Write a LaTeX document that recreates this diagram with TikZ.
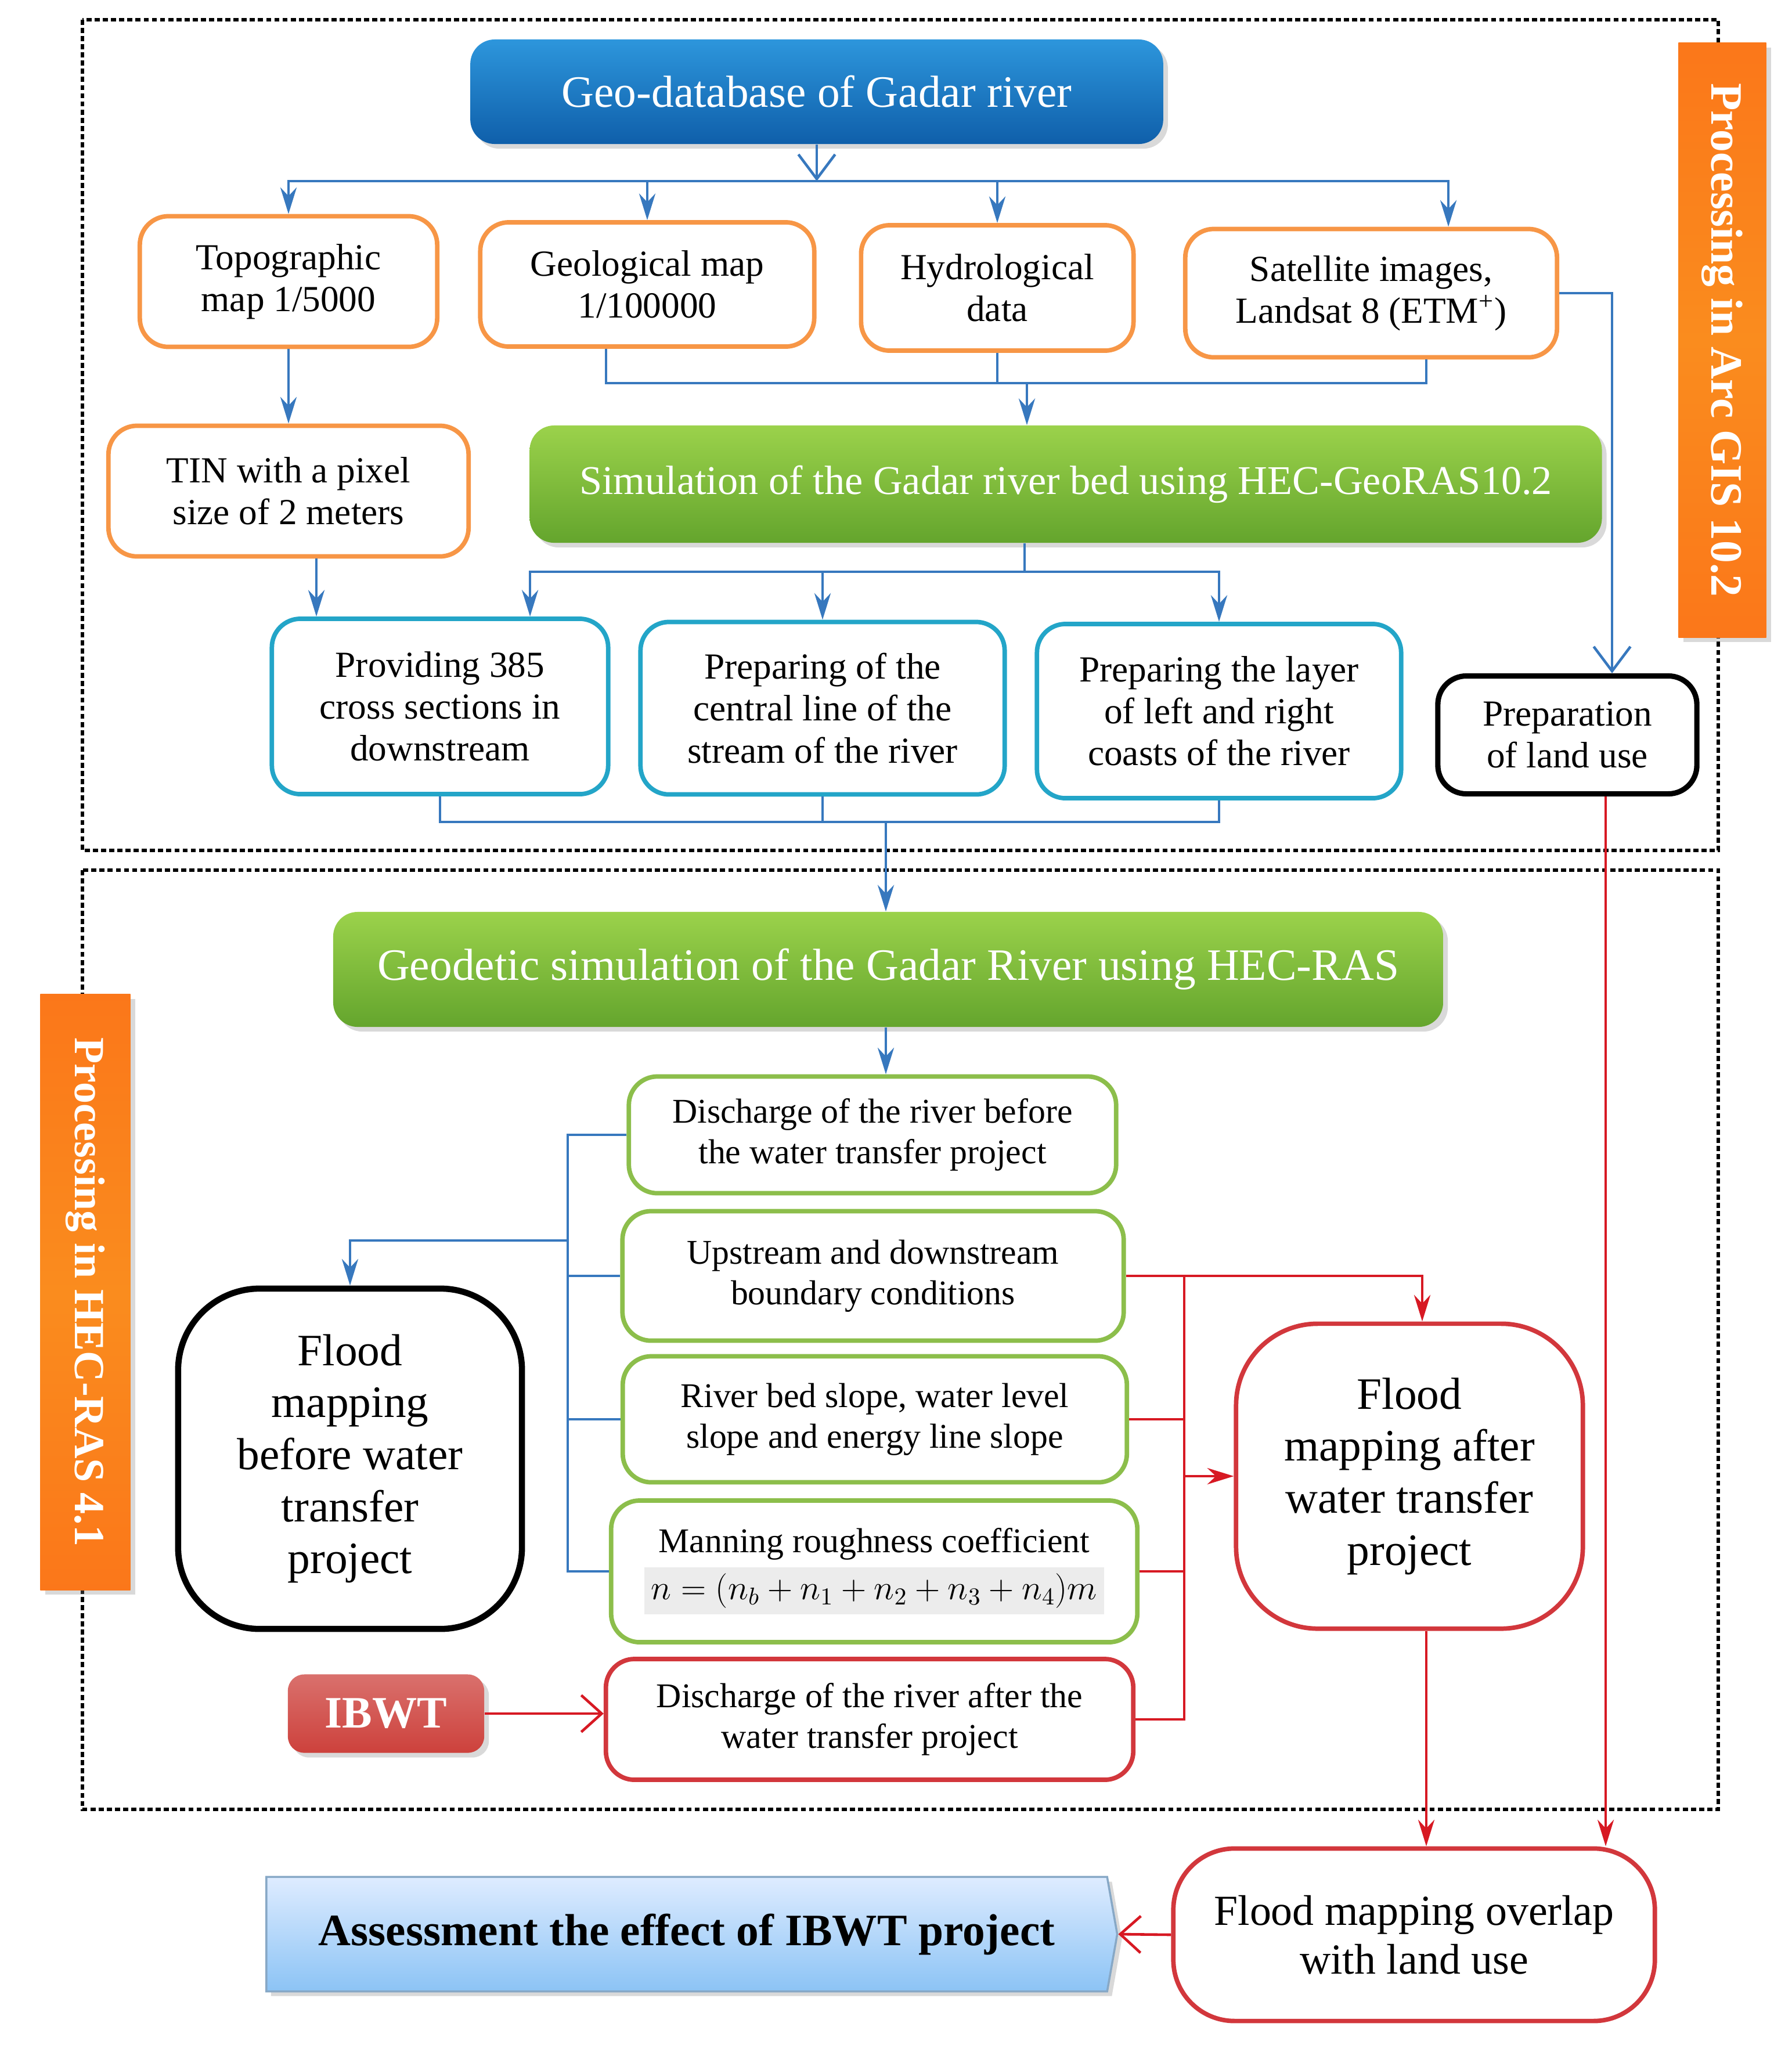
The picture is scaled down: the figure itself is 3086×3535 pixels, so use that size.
\documentclass[tikz,border=0pt]{standalone}
\usepackage{fix-cm}
\usepackage{fontspec}
\setmainfont{Liberation Serif}
\usetikzlibrary{arrows.meta,shadows,shapes.symbols}
\definecolor{linkblue}{RGB}{55,120,190}
\definecolor{linkred}{RGB}{215,25,35}
\definecolor{boxorange}{RGB}{247,150,70}
\definecolor{boxcyan}{RGB}{35,165,200}
\definecolor{boxgreen}{RGB}{140,190,75}
\definecolor{boxred}{RGB}{210,55,60}
\definecolor{dbtop}{RGB}{45,150,220}
\definecolor{dbbot}{RGB}{15,95,170}
\definecolor{greentop}{RGB}{155,210,75}
\definecolor{greenbot}{RGB}{100,165,45}
\definecolor{barorange}{RGB}{250,140,30}
\definecolor{ibwtred}{RGB}{205,65,60}
\definecolor{asstop}{RGB}{222,236,255}
\definecolor{assbot}{RGB}{140,195,245}

\begin{document}
\begin{tikzpicture}[x=0.01cm,y=-0.01cm]
        \tikzstyle{every node}=[align=center,inner sep=2pt,font=\fontsize{18}{20.5}\selectfont]
        \tikzstyle{frame}=[dash pattern=on 2.5pt off 1.5pt,line width=1.6pt]
        \tikzstyle{box}=[draw,fill=white,rounded corners=14pt,line width=2.2pt]
        \tikzstyle{obox}=[box,draw=boxorange]
        \tikzstyle{cbox}=[box,draw=boxcyan]
        \tikzstyle{gbox}=[box,draw=boxgreen,font=\fontsize{17}{20}\selectfont]
        \tikzstyle{rbox}=[box,draw=boxred]
        \tikzstyle{kbox}=[box,draw=black]
        \tikzstyle{bfill}=[rounded corners=12pt,top color=dbtop,bottom color=dbbot,text=white,font=\fontsize{22}{26}\selectfont,drop shadow={opacity=0.3}]
        \tikzstyle{gfill}=[rounded corners=12pt,top color=greentop,bottom color=greenbot,text=white,font=\fontsize{20}{24}\selectfont,drop shadow={opacity=0.3}]
        \tikzstyle{ifill}=[rounded corners=8pt,top color=ibwtred!75,bottom color=ibwtred,text=white,font=\bfseries\fontsize{22}{26}\selectfont,drop shadow={opacity=0.3}]
        \tikzstyle{bar}=[rotate=-90,top color=barorange!85!red,bottom color=barorange!85!red,middle color=barorange,text=white,font=\bfseries\fontsize{22}{26}\selectfont,drop shadow={opacity=0.3}]
        \tikzstyle{bline}=[draw=linkblue,line width=1.3pt]
        \tikzstyle{barrow}=[bline,-{Stealth[length=13pt,width=8pt]}]
        \tikzstyle{barrowo}=[bline,-{Straight Barb[length=12pt,width=18pt]}]
        \tikzstyle{rline}=[draw=linkred,line width=1.3pt]
        \tikzstyle{rarrow}=[rline,-{Stealth[length=13pt,width=8pt]}]
        \tikzstyle{rarrowo}=[rline,-{Straight Barb[length=10pt,width=18pt]}]
        \useasboundingbox (0,0) rectangle (3086,3535);
        \draw[frame] (142,34) rectangle (2960,1465);
        \draw[frame] (142,1499) rectangle (2960,3117);
        \node[bar,minimum width=10.24cm,minimum height=1.51cm] (arcgis) at (2967,586) {Processing in Arc GIS 10.2};
        \node[bar,minimum width=10.26cm,minimum height=1.55cm,font=\bfseries\fontsize{21}{25}\selectfont] (hecras) at (147,2226) {Processing in HEC-RAS 4.1};
        \node[bfill,minimum width=11.93cm,minimum height=1.8cm] (geodb) at (1407,158) {Geo-database of Gadar river};
        \node[obox,minimum width=5.12cm,minimum height=2.25cm] (topo) at (497,485) {Topographic\\map 1/5000};
        \node[obox,minimum width=5.75cm,minimum height=2.14cm] (geol) at (1115,490) {Geological map\\1/100000};
        \node[obox,minimum width=4.69cm,minimum height=2.16cm] (hydro) at (1718,496) {Hydrological\\data};
        \node[obox,minimum width=6.4cm,minimum height=2.21cm] (sat) at (2362,505) {Satellite images,\\Landsat 8 (ETM\textsuperscript{+})};
        \node[obox,minimum width=6.2cm,minimum height=2.25cm] (tin) at (497,846) {TIN with a pixel\\size of 2 meters};
        \node[gfill,minimum width=18.46cm,minimum height=2.02cm] (sim) at (1836,834) {Simulation of the Gadar river bed using HEC-GeoRAS10.2};
        \node[cbox,minimum width=5.79cm,minimum height=3.02cm] (prov) at (758,1217) {Providing 385\\cross sections in\\downstream};
        \node[cbox,minimum width=6.27cm,minimum height=2.97cm] (cent) at (1417,1220) {Preparing of the\\central line of the\\stream of the river};
        \node[cbox,minimum width=6.27cm,minimum height=3cm] (layer) at (2100,1225) {Preparing the layer\\of left and right\\coasts of the river};
        \node[kbox,minimum width=4.46cm,minimum height=2.03cm,line width=2.6pt] (land) at (2700,1266) {Preparation\\of land use};
        \node[gfill,minimum width=19.11cm,minimum height=1.98cm,font=\fontsize{22}{26}\selectfont] (geod) at (1530,1670) {Geodetic simulation of the Gadar River using HEC-RAS};
        \node[gbox,minimum width=8.39cm,minimum height=2.01cm] (dbef) at (1503,1955) {Discharge of the river before\\the water transfer project};
        \node[gbox,minimum width=8.63cm,minimum height=2.23cm] (ups) at (1504,2198) {Upstream and downstream\\boundary conditions};
        \node[gbox,minimum width=8.68cm,minimum height=2.17cm] (slope) at (1507,2445) {River bed slope, water level\\slope and energy line slope};
        \node[gbox,minimum width=9.06cm,minimum height=2.44cm] (mann) at (1506,2707) {Manning roughness coefficient\\[3pt]\colorbox{gray!15}{\makebox[7.7cm]{$n=(n_b+n_1+n_2+n_3+n_4)m$}}};
        \node[rbox,minimum width=9.08cm,minimum height=2.08cm,font=\fontsize{17}{20}\selectfont] (dafter) at (1498,2962) {Discharge of the river after the\\water transfer project};
        \node[kbox,line width=3pt,rounded corners=40pt,minimum width=5.92cm,minimum height=5.86cm,font=\fontsize{22}{25.5}\selectfont] (fbef) at (603,2513) {Flood\\mapping\\before water\\transfer\\project};
        \node[rbox,rounded corners=40pt,minimum width=5.97cm,minimum height=5.25cm,font=\fontsize{22}{25.5}\selectfont] (faft) at (2428,2543) {Flood\\mapping after\\water transfer\\project};
        \node[ifill,minimum width=3.38cm,minimum height=1.35cm] (ibwt) at (665,2952) {IBWT};
        \node[rbox,rounded corners=30pt,minimum width=8.29cm,minimum height=2.97cm,font=\fontsize{21}{24}\selectfont] (over) at (2436,3333) {Flood mapping overlap\\with land use};
        \node[signal,signal to=east,signal pointer angle=160,top color=asstop,bottom color=assbot,draw=assbot!60!gray,line width=1pt,minimum width=14.65cm,minimum height=1.97cm,font=\bfseries\fontsize{22}{26}\selectfont,drop shadow={opacity=0.3}] (assess) at (1183,3332) {Assessment the effect of IBWT project};
        \coordinate (j1) at (1407,312);
        \draw[barrowo] (geodb.south) -- (j1);
        \draw[barrow] (j1) -| (topo.north);
        \draw[barrow] (j1) -| (geol.north);
        \draw[barrow] (j1) -| (hydro.north);
        \draw[barrow] (j1) -| ([xshift=1.33cm]sat.north);
        \coordinate (j2) at (1769,660);
        \coordinate (g1) at ([xshift=-0.71cm]geol.south);
        \coordinate (s2) at ([xshift=0.95cm]sat.south);
        \draw[bline] (g1) |- (s2 |- j2) -- (s2);
        \draw[bline] (hydro.south) -- (hydro.south |- j2);
        \draw[barrow] (j2) -- (j2 |- sim.north);
        \draw[barrow] (topo) -- (tin);
        \coordinate (j3) at (1765,985);
        \draw[bline] (j3 |- sim.south) -- (j3);
        \draw[barrow] (j3) -| ([xshift=1.55cm]prov.north);
        \draw[barrow] (j3) -| (cent.north);
        \draw[barrow] (j3) -| (layer.north);
        \coordinate (t1) at ([xshift=0.48cm]tin.south);
        \draw[barrow] (t1) -- (t1 |- prov.north);
        \draw[barrowo] (sat.east) -| ([xshift=0.77cm]land.north);
        \coordinate (j4) at (1526,1416);
        \draw[bline] (prov.south) |- (layer.south |- j4) -- (layer.south);
        \draw[bline] (cent.south) -- (cent.south |- j4);
        \draw[barrow] (j4) -- (j4 |- geod.north);
        \draw[barrow] (geod.south -| j4) -- (j4 |- dbef.north);
        \coordinate (b1) at (978,2137);
        \draw[bline] (dbef.west) -| (b1 |- mann.west) -- (mann.west);
        \draw[bline] (ups.west) -- (ups.west -| b1);
        \draw[bline] (slope.west) -- (slope.west -| b1);
        \draw[barrow] (b1) -| (fbef.north);
        \coordinate (r1) at (2040,2182);
        \draw[rline] (ups.east) -- (ups.east -| r1) |- (dafter.east);
        \draw[rline] (slope.east) -- (slope.east -| r1);
        \draw[rline] (mann.east) -- (mann.east -| r1);
        \draw[rarrow] (ups.east -| r1) -| ([xshift=0.22cm]faft.north);
        \draw[rarrow] (faft.west -| r1) -- (faft.west);
        \draw[rarrowo] (ibwt.east) -- (ibwt.east -| dafter.west);
        \coordinate (f1) at ([xshift=0.29cm]faft.south);
        \draw[rarrow] (f1) -- (f1 |- over.north);
        \coordinate (l1) at ([xshift=0.66cm]land.south);
        \draw[rarrow] (l1) -- (l1 |- over.north);
        \draw[rarrowo] (over.west) -- (assess.east);
    \end{tikzpicture}
\end{document}
